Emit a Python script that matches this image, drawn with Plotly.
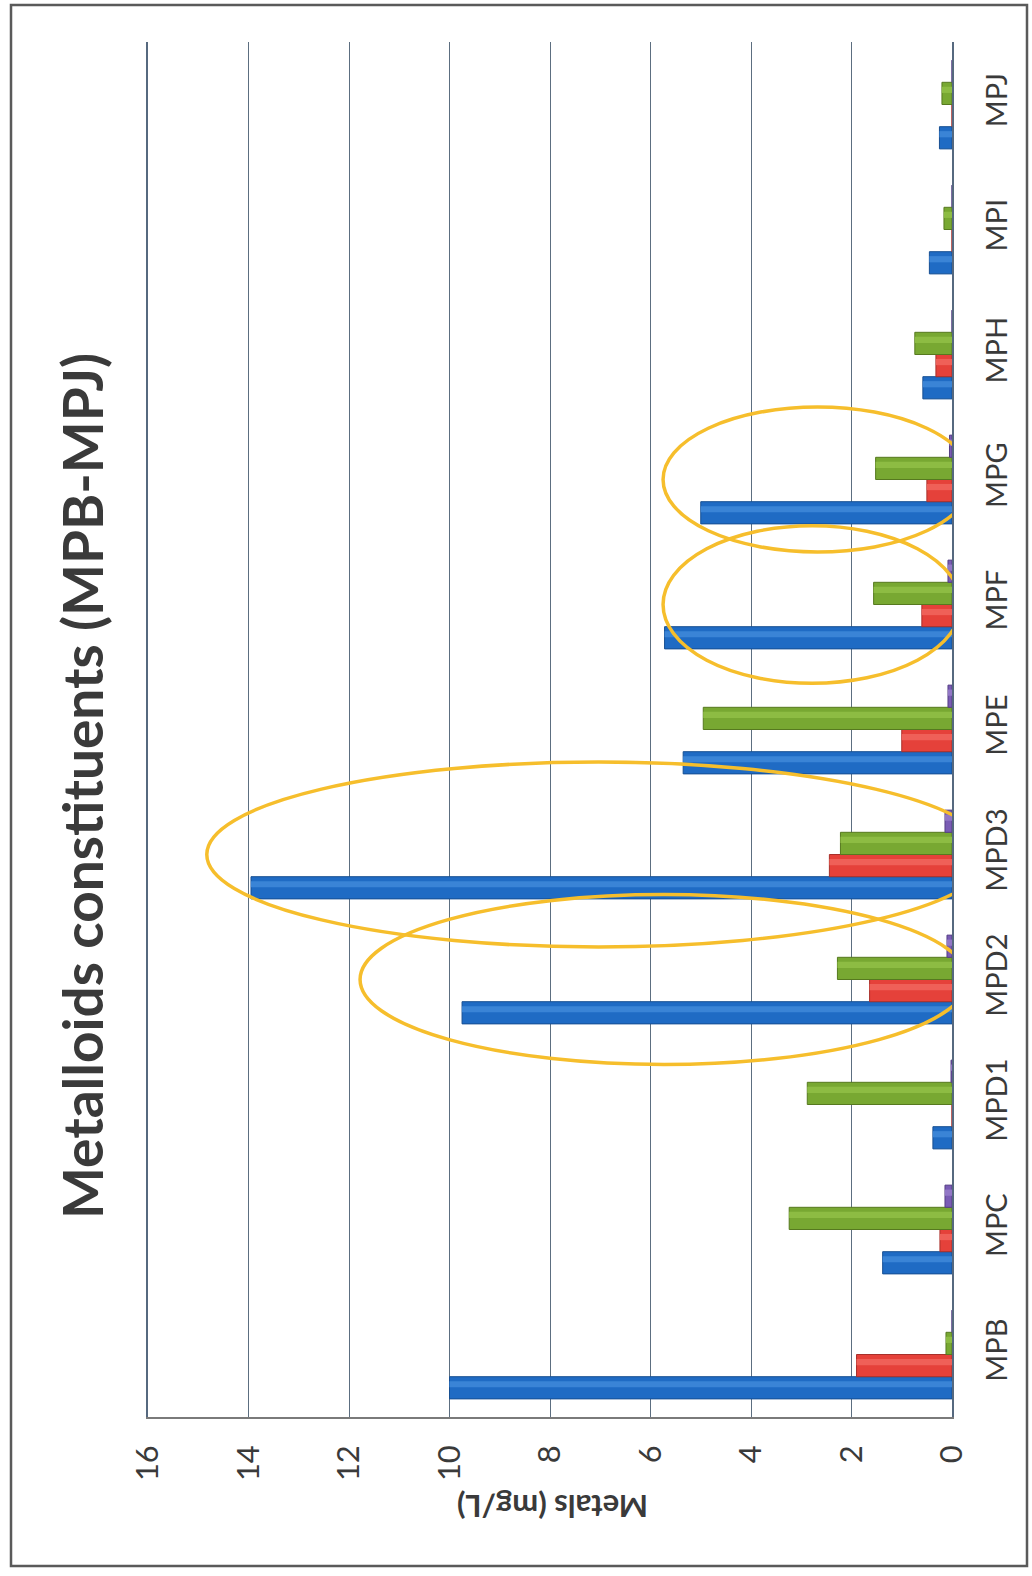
import plotly.graph_objects as go

# Sampling points (category axis) and metalloid concentrations in mg/L
sites = ["MPB", "MPC", "MPD1", "MPD2", "MPD3", "MPE", "MPF", "MPG", "MPH", "MPI", "MPJ"]
series_blue = [10.0, 1.38, 0.38, 9.75, 13.95, 5.35, 5.72, 5.0, 0.58, 0.45, 0.25]
series_red = [1.9, 0.24, 0.0, 1.64, 2.44, 1.0, 0.6, 0.5, 0.32, 0.0, 0.0]
series_green = [0.12, 3.24, 2.88, 2.28, 2.22, 4.95, 1.56, 1.52, 0.74, 0.16, 0.2]
series_purple = [0.0, 0.14, 0.02, 0.1, 0.14, 0.08, 0.08, 0.05, 0.0, 0.0, 0.0]
value_ticks = [0, 2, 4, 6, 8, 10, 12, 14, 16]

# Highlight rings: (centre site, value extent low/high, half height in category units)
rings = [
    ("MPG", -0.40, 5.75, 0.58),
    ("MPF", -0.18, 5.75, 0.63),
    ("MPD3", -0.76, 14.83, 0.74),
    ("MPD2", -0.32, 11.78, 0.68),
]

colors = {"blue": "#1F6BC4", "red": "#E5413A", "green": "#78A832", "purple": "#7A5CB5"}
edges = {"blue": "#174F92", "red": "#A8302B", "green": "#56791F", "purple": "#553F85"}
shines = {"blue": "#3A84D6", "red": "#EF6058", "green": "#8DBC43", "purple": "#9277C6"}

W, H = 1032, 1576
L, R, T, B = 148, 80, 42, 159
pw, ph = W - L - R, H - T - B

GAP = 0.29
slot = (1 - GAP) / 4


def px_x(p):
    return (p - L) / pw


def px_y(p):
    return (H - B - p) / ph


fig = go.Figure()
series = [("blue", series_blue), ("red", series_red),
          ("green", series_green), ("purple", series_purple)]
for i, (key, vals) in enumerate(series):
    off = -(1 - GAP) / 2 + i * slot
    # body of the bar
    fig.add_trace(go.Bar(
        y=sites, x=vals, orientation="h", name=key,
        width=slot, offset=off,
        marker=dict(color=colors[key], line=dict(color=edges[key], width=1)),
    ))
    # lighter sheen along the upper part of each bar for a rounded look
    fig.add_trace(go.Bar(
        y=sites, x=vals, orientation="h", name=key + " sheen",
        width=slot * 0.28, offset=off + slot * 0.52,
        marker=dict(color=shines[key], line=dict(width=0)),
        hoverinfo="skip",
    ))

for site, lo, hi, half in rings:
    c = sites.index(site)
    fig.add_shape(type="circle", xref="x", yref="y",
                  x0=lo, x1=hi, y0=c - half, y1=c + half,
                  line=dict(color="#F6BE2C", width=3.5), layer="above")

# outer frame
fig.add_shape(type="rect", xref="paper", yref="paper",
              x0=px_x(11), x1=px_x(1027), y0=px_y(1566), y1=px_y(5),
              line=dict(color="#5A5A5A", width=2.5), layer="below")

fig.add_annotation(text="<b>Metalloids constituents (MPB-MPJ)</b>",
                   xref="paper", yref="paper", x=px_x(82), y=px_y(786),
                   xanchor="center", yanchor="middle",
                   textangle=-90, showarrow=False,
                   font=dict(family="Lato", size=55, color="#3A3A3A"))
fig.add_annotation(text="<b>Metals (mg/L)</b>",
                   xref="paper", yref="paper", x=px_x(553), y=px_y(1507),
                   xanchor="center", yanchor="middle",
                   textangle=180, showarrow=False,
                   font=dict(family="Lato", size=31, color="#3A3A3A"))

fig.update_layout(
    width=W, height=H,
    margin=dict(l=L, r=R, t=T, b=B),
    paper_bgcolor="white", plot_bgcolor="white",
    barmode="overlay",
    showlegend=False,
)
fig.update_xaxes(range=[16, 0], tickvals=value_ticks, ticktext=[str(v) for v in value_ticks],
                 tickangle=-90, showgrid=True, gridcolor="#5C6E80", gridwidth=1,
                 showline=True, linecolor="#7A7A7A", linewidth=1.5, zeroline=False,
                 ticks="", ticklabelstandoff=14,
                 tickfont=dict(family="Lato", size=31, color="#3A3A3A"))
fig.update_yaxes(side="right", tickangle=-90, showgrid=False,
                 showline=True, mirror=True, linecolor="#56697F", linewidth=1.5,
                 ticks="", ticklabelstandoff=18,
                 tickfont=dict(family="Lato", size=29, color="#3A3A3A"))

fig.write_html("out.html")
